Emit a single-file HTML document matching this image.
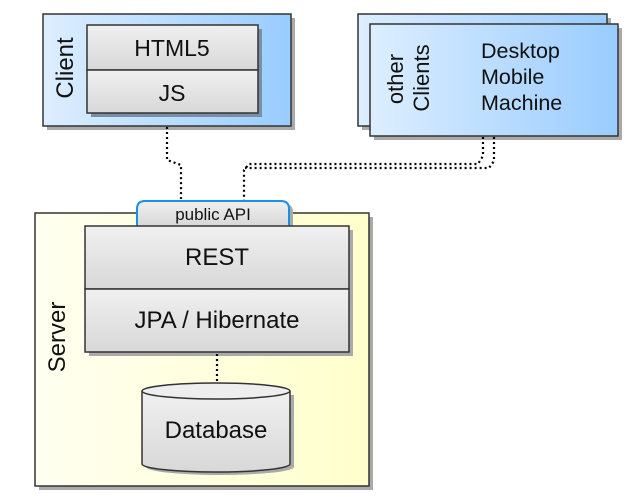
<!DOCTYPE html>
<html><head><meta charset="utf-8"><style>body{margin:0;background:#fff}svg{display:block}text{font-family:"Liberation Sans",Arial,sans-serif;fill:#111}</style></head><body>
<svg width="630" height="497" viewBox="0 0 630 497" xmlns="http://www.w3.org/2000/svg">
<defs>
<linearGradient id="blue" x1="0" x2="1" y1="0" y2="0"><stop offset="0" stop-color="#ddeeff"/><stop offset="1" stop-color="#99ccff"/></linearGradient>
<linearGradient id="yel" x1="0" x2="1"><stop offset="0" stop-color="#fffff0"/><stop offset="1" stop-color="#ffffcc"/></linearGradient>
<linearGradient id="gray" x1="0" x2="0" y1="0" y2="1"><stop offset="0" stop-color="#f0f0f0"/><stop offset="1" stop-color="#d8d8d8"/></linearGradient>
</defs>
<!-- Client -->
<rect x="47" y="18" width="248" height="112" fill="#aaa"/>
<rect x="43" y="14" width="248" height="112" fill="url(#blue)" stroke="#333" stroke-width="1.5"/>
<rect x="91" y="29" width="171" height="88" fill="#7a8ea6"/>
<rect x="87" y="25" width="171" height="45" fill="url(#gray)" stroke="#333" stroke-width="1.5"/>
<rect x="87" y="70" width="171" height="43" fill="url(#gray)" stroke="#333" stroke-width="1.5"/>
<text x="172" y="56" font-size="23" text-anchor="middle">HTML5</text>
<text x="172" y="101" font-size="23" text-anchor="middle">JS</text>
<text transform="translate(73,68) rotate(-90)" font-size="24" text-anchor="middle">Client</text>
<!-- other clients -->
<rect x="362" y="18" width="249" height="112" fill="#aaa"/>
<rect x="358" y="14" width="249" height="112" fill="url(#blue)" stroke="#333" stroke-width="1.5"/>
<rect x="374" y="28" width="248" height="112" fill="#aaa"/>
<rect x="370" y="24" width="248" height="112" fill="url(#blue)" stroke="#333" stroke-width="1.5"/>
<text transform="translate(403,79) rotate(-90)" font-size="22" text-anchor="middle">other</text>
<text transform="translate(429,78) rotate(-90)" font-size="22" text-anchor="middle">Clients</text>
<text x="481" y="58" font-size="21.5">Desktop</text>
<text x="481" y="84" font-size="21.5">Mobile</text>
<text x="481" y="110" font-size="21.5">Machine</text>
<!-- Server -->
<rect x="39" y="217" width="334" height="273" fill="#aaa"/>
<rect x="35" y="213" width="334" height="273" fill="url(#yel)" stroke="#333" stroke-width="1.5"/>
<text transform="translate(65,337) rotate(-90)" font-size="24" text-anchor="middle">Server</text>
<path d="M141 229 V212 Q141 204 149 204 H285 Q293 204 293 212 V229 Z" fill="#aaa"/>
<path d="M137 226 V209 Q137 201 145 201 H281 Q289 201 289 209 V226" fill="url(#gray)" stroke="#1a8fe8" stroke-width="2"/>
<text x="213" y="220" font-size="17" text-anchor="middle">public API</text>
<rect x="89" y="230" width="264" height="126" fill="#aaa"/>
<rect x="85" y="226" width="264" height="63" fill="url(#gray)" stroke="#333" stroke-width="1.5"/>
<rect x="85" y="289" width="264" height="63" fill="url(#gray)" stroke="#333" stroke-width="1.5"/>
<text x="217" y="265" font-size="24" text-anchor="middle">REST</text>
<text x="217" y="328" font-size="24" text-anchor="middle">JPA / Hibernate</text>
<!-- DB -->
<path d="M146 395 V467 A74 8 0 0 0 294 467 V395 Z" fill="#aaa"/>
<path d="M142 391 V464 A74 8 0 0 0 290 464 V391" fill="url(#gray)" stroke="#333" stroke-width="1.5"/>
<ellipse cx="216" cy="391" rx="74" ry="8" fill="#eee" stroke="#333" stroke-width="1.5"/>
<text x="216" y="438" font-size="24" text-anchor="middle">Database</text>
<!-- connectors -->
<g fill="none" stroke="#000" stroke-width="2.2" stroke-dasharray="2,3">
<path d="M167 127 V160 L181 165 V199"/>
<path d="M483 137 V156 L478 164 H249 L244 170 V200"/>
<path d="M494 137 V161 L489 168 H245"/>
<path d="M217 354 V384"/>
</g>
</svg>
</body></html>
